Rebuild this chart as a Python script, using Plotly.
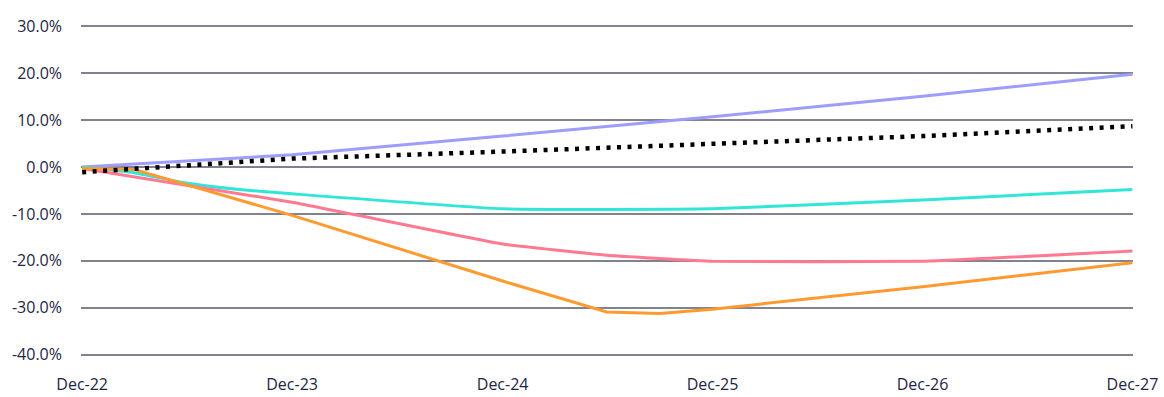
import plotly.graph_objects as go

# ---- data (percent) ----
year_ends = ["2022-12-31", "2023-12-31", "2024-12-31", "2025-12-31", "2026-12-31", "2027-12-31"]
tick_labels = ["Dec-22", "Dec-23", "Dec-24", "Dec-25", "Dec-26", "Dec-27"]

purple_x = year_ends
purple_y = [0.0, 2.6, 6.6, 10.7, 15.1, 19.8]

dotted_x = year_ends
dotted_y = [-1.1, 1.8, 3.3, 4.9, 6.6, 8.7]

teal_x = ["2022-12-31", "2023-03-31", "2023-06-30", "2023-09-30", "2023-12-31",
          "2024-12-31", "2025-12-31", "2026-12-31", "2027-12-31"]
teal_y = [0.0, -1.2, -3.4, -4.8, -5.7, -8.9, -8.9, -7.0, -4.8]

pink_x = ["2022-12-31", "2023-12-31", "2024-12-31", "2025-06-30", "2025-12-31", "2026-12-31", "2027-12-31"]
pink_y = [-0.3, -7.5, -16.4, -18.8, -20.1, -20.1, -17.9]

orange_x = ["2022-12-31", "2023-03-31", "2023-12-31", "2024-12-31", "2025-06-30",
            "2025-09-30", "2025-12-31", "2026-12-31", "2027-12-31"]
orange_y = [-0.3, -0.5, -10.3, -24.3, -30.9, -31.2, -30.3, -25.5, -20.4]

y_ticks = [30, 20, 10, 0, -10, -20, -30, -40]
y_tick_labels = ["30.0%", "20.0%", "10.0%", "0.0%", "-10.0%", "-20.0%", "-30.0%", "-40.0%"]

fig = go.Figure()
fig.add_trace(go.Scatter(x=purple_x, y=purple_y, mode="lines",
                         line=dict(color="#9d9dfb", width=3), showlegend=False))
fig.add_trace(go.Scatter(x=teal_x, y=teal_y, mode="lines",
                         line=dict(color="#30e6d8", width=3, shape="spline", smoothing=0.4), showlegend=False))
fig.add_trace(go.Scatter(x=pink_x, y=pink_y, mode="lines",
                         line=dict(color="#ff7a91", width=3, shape="spline", smoothing=0.3), showlegend=False))
fig.add_trace(go.Scatter(x=orange_x, y=orange_y, mode="lines",
                         line=dict(color="#ff9a30", width=3), showlegend=False))
fig.add_trace(go.Scatter(x=dotted_x, y=dotted_y, mode="lines",
                         line=dict(color="#000000", width=4.5, dash="4px,6.5px"), showlegend=False))

font_col = "#1e2545"
fig.update_layout(
    width=1164, height=397,
    margin=dict(l=81, r=31, t=24, b=40),
    paper_bgcolor="white", plot_bgcolor="white",
    font=dict(family="'Open Sans', Lato, sans-serif", size=16, color=font_col),
    xaxis=dict(
        type="date",
        range=["2022-12-29", "2028-01-01"],
        tickvals=year_ends, ticktext=tick_labels,
        showgrid=False, zeroline=False, showline=False,
        ticks="", ticklabelstandoff=16, automargin=False,
        tickfont=dict(size=16, color=font_col),
    ),
    yaxis=dict(
        range=[-40.5, 30.5],
        tickvals=y_ticks, ticktext=y_tick_labels,
        showgrid=True, gridcolor="#80838f", gridwidth=1.5,
        zeroline=False, showline=False,
        ticks="", ticklabelstandoff=18, automargin=False,
        tickfont=dict(size=16, color=font_col),
    ),
)

fig.write_html("out.html")
